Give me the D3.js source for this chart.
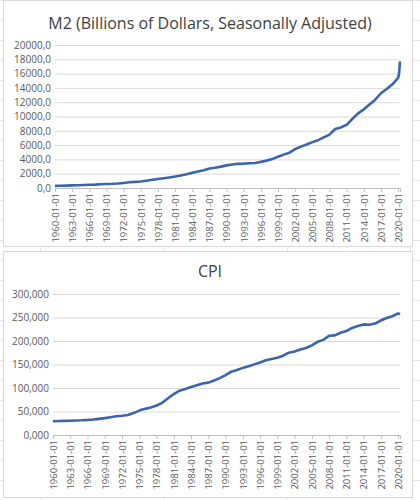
<!DOCTYPE html>
<html><head><meta charset="utf-8">
<script src="https://cdn.jsdelivr.net/npm/d3@7"></script>
<style>body{margin:0;background:#fff}svg{display:block}</style>
</head><body><svg id="c" width="420" height="500"></svg>
<script>
const years = d3.range(1960, 2021);
const m2Values = [300,312,334,363,388,420,453,475,520,565,587,628,709,802,856,911,1025,1152,1270,1366,1474,1600,1756,1910,2126,2310,2497,2735,2833,2990,3166,3283,3380,3403,3453,3500,3652,3829,4041,4382,4667,4938,5449,5790,6093,6417,6690,7076,7468,8246,8478,8838,9660,10446,11005,11684,12350,13252,13840,14500,15400];
const m2Extra = [["2020-03-01",16000],["2020-05-01",17700]];
const cpiValues = [29.4,29.8,30.0,30.4,30.9,31.3,32.0,32.9,34.3,35.9,37.9,39.8,41.1,42.7,46.6,51.9,55.6,58.7,62.7,68.5,78.0,87.2,94.3,97.8,101.9,105.7,109.6,111.4,116.0,121.1,127.4,134.6,138.3,142.8,146.2,150.3,154.4,159.1,161.6,164.3,168.8,175.1,177.7,181.7,185.2,190.7,198.3,202.4,211.1,211.9,217.5,221.2,227.8,231.7,235.3,234.7,237.1,243.6,248.9,252.6,258.7];
const cpiExtra = [["2020-05-01",256.4]];
const tickYears = d3.range(1960, 2021, 3);
const m2Ticks = d3.range(0, 20001, 2000);
const cpiTicks = d3.range(0, 300001, 50000).map(v=>v/1000);

const svg = d3.select("#c");
const bg = svg.append("g").attr("stroke","#e4e4e4").attr("stroke-width",1);
[40,163,287,410].forEach(x=>bg.append("line").attr("x1",x+.5).attr("x2",x+.5).attr("y1",0).attr("y2",500));
d3.range(0,500,20).forEach(y=>bg.append("line").attr("x1",0).attr("x2",420).attr("y1",y+.5).attr("y2",y+.5));

const parse = d3.timeParse("%Y-%m-%d");
function chart(top, h, title, vals, extra, ticks, fmt, yMax, plotTop, plotBot, plotLeft, titleY){
  const g = svg.append("g");
  g.append("rect").attr("x",3.5).attr("y",top+0.5).attr("width",409).attr("height",h).attr("fill","#fff").attr("stroke","#d9d9d9");
  const data = years.map((y,i)=>[new Date(y,0,1), vals[i]]).concat(extra.map(d=>[parse(d[0]),d[1]]));
  const x = d3.scaleTime().domain([new Date(1960,0,1), parse("2020-05-01")]).range([plotLeft, 400]);
  const y = d3.scaleLinear().domain([0,yMax]).range([plotBot, plotTop]);
  g.append("text").attr("x",210).attr("y",titleY).attr("text-anchor","middle").attr("font-family","Open Sans, sans-serif").attr("font-size",16).attr("fill","#404040").text(title);
  const ya = g.append("g").attr("transform",`translate(${plotLeft},0)`).call(d3.axisLeft(y).tickValues(ticks).tickSize(-(400-plotLeft)).tickFormat(fmt));
  ya.select(".domain").remove();
  ya.selectAll("line").attr("stroke","#d9d9d9");
  ya.selectAll("text").attr("font-family","Open Sans, sans-serif").attr("font-size",10).attr("fill","#595959").attr("x",-4);
  const xa = g.append("g").attr("transform",`translate(0,${plotBot})`).call(d3.axisBottom(x).tickValues(tickYears.map(t=>new Date(t,0,1))).tickSize(4).tickFormat(d3.timeFormat("%Y-%m-%d")));
  xa.select(".domain").attr("stroke","#bfbfbf");
  xa.selectAll("line").attr("stroke","#bfbfbf");
  xa.selectAll("text").attr("font-family","Open Sans, sans-serif").attr("font-size",9.5).attr("fill","#595959")
    .attr("transform","rotate(-90)").attr("text-anchor","end").attr("x",-5).attr("y",0).attr("dy","0.35em");
  g.append("path").datum(data).attr("fill","none").attr("stroke","#3b64b0").attr("stroke-width",2.6).attr("stroke-linejoin","round")
    .attr("d", d3.line().x(d=>x(d[0])).y(d=>y(d[1])));
}
chart(0, 246, "M2 (Billions of Dollars, Seasonally Adjusted)", m2Values, m2Extra, m2Ticks, d=>d3.format(".1f")(d).replace(".",","), 20000, 45, 188, 55, 29);
chart(251, 246, "CPI", cpiValues, cpiExtra, cpiTicks, d=>d3.format(".3f")(d).replace(".",","), 300, 294, 435, 53, 277);
</script></body></html>
